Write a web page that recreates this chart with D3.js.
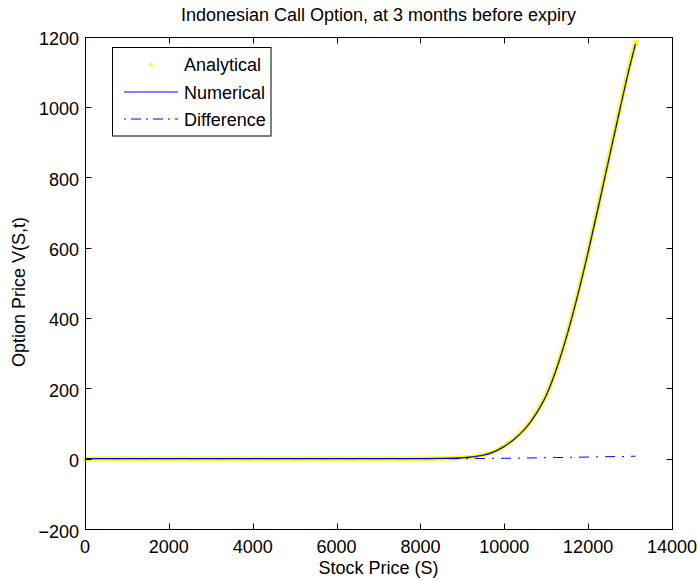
<!DOCTYPE html>
<html>
<head>
<meta charset="utf-8">
<script src="https://cdn.jsdelivr.net/npm/d3@7"></script>
<style>
  html, body { margin: 0; padding: 0; background: #fff; }
  svg { display: block; font-family: "Liberation Sans", Arial, Helvetica, sans-serif; }
</style>
</head>
<body>
<svg id="chart" width="698" height="581"></svg>
<script>
// ---- data ----
const stockPrice = [0, 1000, 2000, 3000, 4000, 5000, 6000, 7000, 8000, 8500, 9000, 9250, 9500, 9750,
  10000, 10250, 10500, 10750, 11000, 11250, 11500, 11750, 12000, 12250, 12500, 12750, 13000, 13130];
const analytical = [0, 0, 0, 0, 0, 0, 0, 0, 0, 0.5, 2.5, 5, 10, 20,
  36, 58, 87, 128, 182, 260, 356, 468, 592, 724, 860, 995, 1125, 1186];
const numerical = [0, 0, 0, 0, 0, 0, 0, 0, 0, 0.5, 2.5, 4.9, 9.7, 19.4,
  35, 56.6, 85.2, 125.8, 179.3, 256.9, 352.4, 463.9, 587.4, 718.9, 854.4, 988.9, 1118.4, 1179];
const difference = [0, 0, 0, 0, 0, 0, 0, 0, 0, 0, 0, 0.1, 0.3, 0.6,
  1.0, 1.4, 1.8, 2.2, 2.7, 3.1, 3.6, 4.1, 4.6, 5.1, 5.6, 6.1, 6.6, 7.0];
const xTicks = [0, 2000, 4000, 6000, 8000, 10000, 12000, 14000];
const yTicks = [-200, 0, 200, 400, 600, 800, 1000, 1200];
const legendLabels = ["Analytical", "Numerical", "Difference"];
const titleText = "Indonesian Call Option, at 3 months before expiry";
const xLabelText = "Stock Price (S)";
const yLabelText = "Option Price V(S,t)";

// ---- layout ----
const L = 85, R = 672, T = 36.5, B = 529;
const svg = d3.select("#chart");
const x = d3.scaleLinear().domain([0, 14000]).range([L, R]);
const y = d3.scaleLinear().domain([-200, 1200]).range([B, T]);
const fs = 18;

svg.append("rect").attr("width", 698).attr("height", 581).attr("fill", "#fff");

const pts = (vals) => stockPrice.map((s, i) => [s, vals[i]]);
const line = d3.line().x(d => x(d[0])).y(d => y(d[1])).curve(d3.curveMonotoneX);

// Analytical (dense yellow markers -> thick yellow trace)
svg.append("path").attr("d", line(pts(analytical)))
  .attr("fill", "none").attr("stroke", "#ffff00").attr("stroke-width", 4.5)
  .attr("stroke-linecap", "round").attr("stroke-linejoin", "round");
// Numerical
svg.append("path").attr("d", line(pts(numerical)))
  .attr("fill", "none").attr("stroke", "#0000ff").attr("stroke-width", 1.3);
// Difference
svg.append("path").attr("d", line(pts(difference)))
  .attr("fill", "none").attr("stroke", "#0000ff").attr("stroke-width", 1)
  .attr("stroke-dasharray", "10,7,2,7");

// axes box
const crisp = v => Math.round(v) + 0.5;
svg.append("rect").attr("x", crisp(L)).attr("y", crisp(T)).attr("width", Math.round(R) - Math.round(L)).attr("height", Math.round(B) - Math.round(T))
  .attr("fill", "none").attr("stroke", "#000").attr("stroke-width", 1);

const tickLen = 6;
xTicks.forEach(t => {
  const xp = crisp(x(t));
  svg.append("line").attr("x1", xp).attr("x2", xp).attr("y1", crisp(B)).attr("y2", crisp(B) - tickLen).attr("stroke", "#000");
  svg.append("line").attr("x1", xp).attr("x2", xp).attr("y1", crisp(T)).attr("y2", crisp(T) + tickLen).attr("stroke", "#000");
  svg.append("text").attr("x", x(t)).attr("y", 553).attr("text-anchor", "middle")
    .attr("font-size", fs).attr("fill", "#000").text(d3.format("d")(t));
});
yTicks.forEach(t => {
  const yp = crisp(y(t));
  svg.append("line").attr("x1", crisp(L)).attr("x2", crisp(L) + tickLen).attr("y1", yp).attr("y2", yp).attr("stroke", "#000");
  svg.append("line").attr("x1", crisp(R)).attr("x2", crisp(R) - tickLen).attr("y1", yp).attr("y2", yp).attr("stroke", "#000");
  svg.append("text").attr("x", 79).attr("y", y(t) + 8.5).attr("text-anchor", "end")
    .attr("font-size", fs).attr("fill", "#000").text(t < 0 ? "\u2212" + Math.abs(t) : String(t));
});

// title and labels
svg.append("text").attr("x", (L + R) / 2).attr("y", 20.5).attr("text-anchor", "middle")
  .attr("font-size", 18).attr("fill", "#000").text(titleText);
svg.append("text").attr("x", (L + R) / 2).attr("y", 574).attr("text-anchor", "middle")
  .attr("font-size", fs).attr("fill", "#000").text(xLabelText);
svg.append("text").attr("transform", `translate(25,292) rotate(-90)`).attr("text-anchor", "middle")
  .attr("font-size", fs).attr("fill", "#000").text(yLabelText);

// legend
const lg = svg.append("g");
lg.append("rect").attr("x", 112.5).attr("y", 47.5).attr("width", 158.5).attr("height", 88.5)
  .attr("fill", "#fff").attr("stroke", "#000").attr("stroke-width", 1);
const rowY = [64.5, 92, 119];
lg.append("circle").attr("cx", 151).attr("cy", rowY[0]).attr("r", 1.8).attr("fill", "#ffff00");
lg.append("line").attr("x1", 124).attr("x2", 178).attr("y1", rowY[1]).attr("y2", rowY[1])
  .attr("stroke", "#0000ff").attr("stroke-width", 1.2);
lg.append("line").attr("x1", 124).attr("x2", 178).attr("y1", rowY[2]).attr("y2", rowY[2])
  .attr("stroke", "#0000ff").attr("stroke-width", 1.2).attr("stroke-dasharray", "2,5,10,5");
legendLabels.forEach((lab, i) => {
  lg.append("text").attr("x", 184).attr("y", rowY[i] + 6.5).attr("font-size", fs).attr("fill", "#000").text(lab);
});
</script>
</body>
</html>
